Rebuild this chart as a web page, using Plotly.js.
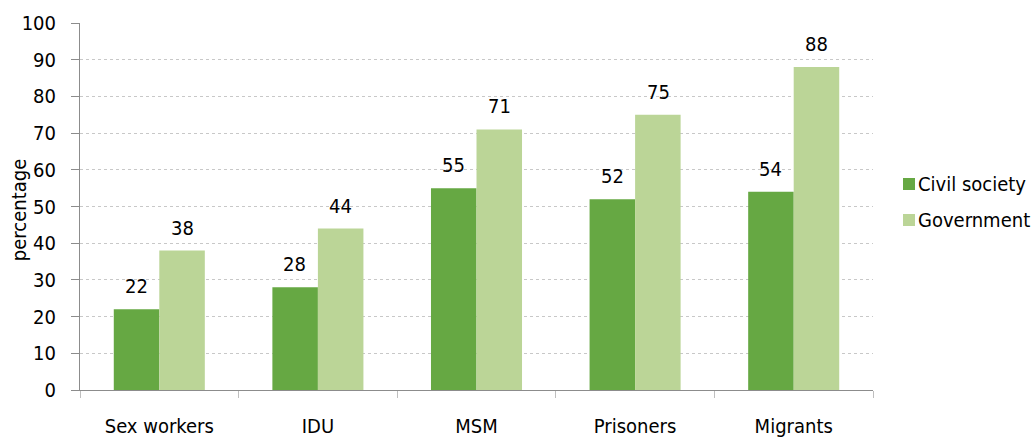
<!DOCTYPE html>
<html>
<head>
<meta charset="utf-8">
<script src="https://cdn.plot.ly/plotly-3.0.1.min.js"></script>
<style>
  html, body { margin: 0; padding: 0; background: #fff; }
  #chart { width: 1036px; height: 438px; }
</style>
</head>
<body>
<div id="chart"></div>
<script>
// Key populations: share reported by civil society vs government (%)
const categories = ["Sex workers", "IDU", "MSM", "Prisoners", "Migrants"];
const civilSociety = [22, 28, 55, 52, 54];
const government = [38, 44, 71, 75, 88];
const seriesNames = ["Civil society", "Government"];
const yTicks = [0, 10, 20, 30, 40, 50, 60, 70, 80, 90, 100];
const yTitle = "percentage";

const FONT = "DejaVu Sans Condensed, Tahoma, DejaVu Sans, sans-serif";
const SIZE = 20;
const DARK = "#66a843";
const LIGHT = "#bbd597";
const colors = [DARK, LIGHT];

const traces = [civilSociety, government].map((vals, s) => ({
  type: "bar", name: seriesNames[s], x: categories, y: vals,
  marker: { color: colors[s] }, hoverinfo: "x+y"
}));

// Value labels above each bar, offset to the bar's side of the group
const annotations = [];
[civilSociety, government].forEach((vals, s) => {
  vals.forEach((v, i) => {
    annotations.push({
      x: categories[i], y: v, xref: "x", yref: "y",
      text: String(v), showarrow: false,
      xshift: s === 0 ? -23 : 23, yanchor: "bottom", yshift: 9,
      font: { family: FONT, size: SIZE, color: "#000" }
    });
  });
});

// Rotated y-axis title placed close to the tick labels
annotations.push({
  xref: "paper", yref: "paper", x: 0, y: 0.49,
  xanchor: "center", yanchor: "middle", xshift: -61,
  textangle: -90, text: yTitle, showarrow: false,
  font: { family: FONT, size: SIZE, color: "#000" }
});

// Compact legend to the right of the plot: swatch + series name
const legendX = 1.0378;
const legendY = [0.5613, 0.4632];
const shapes = [];
seriesNames.forEach((name, s) => {
  shapes.push({
    type: "rect", xref: "paper", yref: "paper",
    xsizemode: "pixel", ysizemode: "pixel",
    xanchor: legendX, yanchor: legendY[s],
    x0: 0, x1: 12, y0: -6, y1: 6,
    fillcolor: colors[s], line: { width: 0 }
  });
  annotations.push({
    xref: "paper", yref: "paper", x: legendX, y: legendY[s],
    xanchor: "left", yanchor: "middle", xshift: 13,
    text: name, showarrow: false,
    font: { family: FONT, size: SIZE, color: "#000" }
  });
});

const layout = {
  width: 1036, height: 438,
  margin: { l: 80, r: 163, t: 23, b: 48, autoexpand: false },
  paper_bgcolor: "#fff", plot_bgcolor: "#fff",
  font: { family: FONT, size: SIZE, color: "#000" },
  barmode: "group", bargap: 0.426, bargroupgap: 0,
  showlegend: false,
  xaxis: {
    type: "category",
    tickson: "boundaries",
    ticks: "outside", ticklen: 7, tickcolor: "#bfbfbf", tickwidth: 1,
    showline: true, linecolor: "#8c8c8c", linewidth: 1,
    showgrid: false, zeroline: false,
    ticklabelstandoff: 18,
    tickfont: { family: FONT, size: SIZE, color: "#000" }
  },
  yaxis: {
    range: [0, 100],
    tickvals: yTicks,
    ticks: "outside", ticklen: 8, tickcolor: "#8c8c8c", tickwidth: 1,
    showline: true, linecolor: "#8c8c8c", linewidth: 1,
    showgrid: true, gridcolor: "#c8c8c8", gridwidth: 1, griddash: "dot",
    zeroline: false,
    ticklabelstandoff: 11,
    tickfont: { family: FONT, size: SIZE, color: "#000" }
  },
  shapes: shapes,
  annotations: annotations
};

Plotly.newPlot("chart", traces, layout, { displayModeBar: false, staticPlot: true });
</script>
</body>
</html>
